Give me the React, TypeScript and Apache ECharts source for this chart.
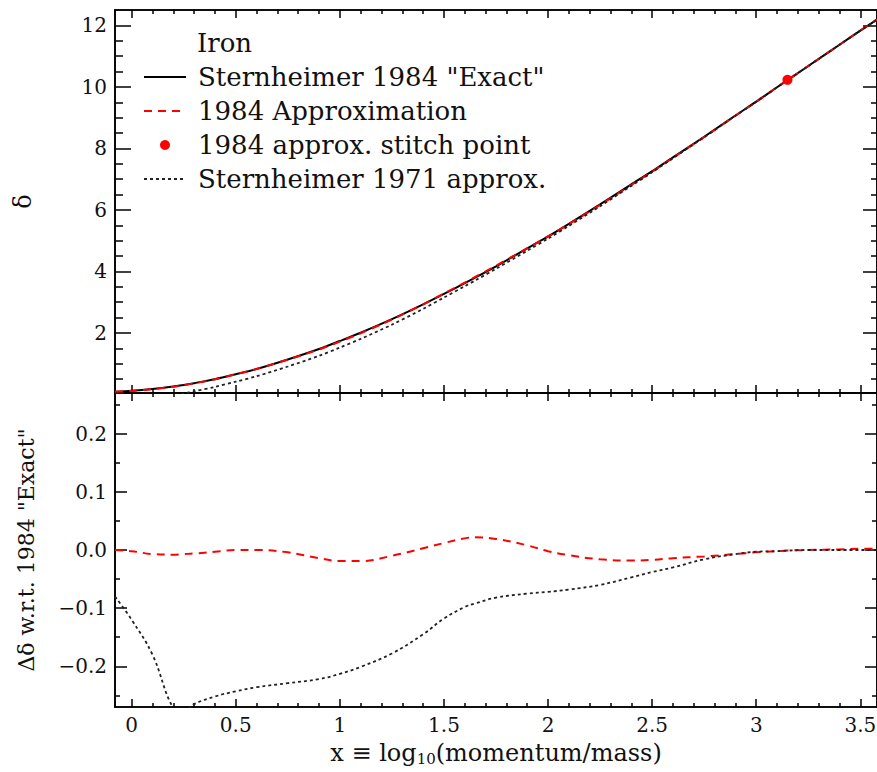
import React, { useEffect, useRef } from 'react';
import * as echarts from 'echarts';

// ---- data ----
const X_VALUES = [-0.08, 0, 0.1, 0.2, 0.25, 0.3, 0.4, 0.5, 0.6, 0.75, 0.9, 1.0, 1.1, 1.25, 1.4, 1.5, 1.6, 1.65, 1.75, 1.9, 2.0, 2.1, 2.25, 2.4, 2.5, 2.6, 2.75, 2.9, 3.0, 3.1, 3.15, 3.25, 3.4, 3.5, 3.58];

// delta, Sternheimer 1984 "Exact"
const DELTA_EXACT_1984 = [0.09, 0.12, 0.18, 0.26, 0.31, 0.37, 0.5, 0.66, 0.83, 1.14, 1.48, 1.74, 2.01, 2.45, 2.93, 3.27, 3.62, 3.8, 4.17, 4.75, 5.14, 5.55, 6.18, 6.83, 7.26, 7.71, 8.38, 9.07, 9.52, 9.99, 10.22, 10.68, 11.37, 11.83, 12.19];
// delta, 1984 approximation
const DELTA_APPROX_1984 = [0.09, 0.118, 0.173, 0.252, 0.303, 0.364, 0.497, 0.66, 0.83, 1.136, 1.466, 1.721, 1.991, 2.44, 2.933, 3.282, 3.64, 3.822, 4.189, 4.758, 5.138, 5.541, 6.164, 6.812, 7.243, 7.696, 8.369, 9.063, 9.516, 9.988, 10.219, 10.68, 11.371, 11.832, 12.192];
// delta, Sternheimer 1971 approximation
const DELTA_1971 = [0.01, 0.0, 0.0, -0.012, 0.032, 0.105, 0.248, 0.417, 0.594, 0.911, 1.258, 1.527, 1.809, 2.272, 2.785, 3.152, 3.522, 3.708, 4.088, 4.675, 5.068, 5.482, 6.12, 6.783, 7.222, 7.68, 8.364, 9.063, 9.517, 9.988, 10.219, 10.68, 11.37, 11.83, 12.19];
// stitch point of the 1984 approximation
const STITCH_X = 3.15;
const STITCH_DELTA = 10.23;

// differences w.r.t. 1984 "Exact"
const DIFF_APPROX_1984 = [0.0, -0.002, -0.007, -0.008, -0.007, -0.006, -0.003, 0.0, 0.0, -0.004, -0.014, -0.019, -0.019, -0.01, 0.003, 0.012, 0.02, 0.022, 0.019, 0.008, -0.002, -0.009, -0.016, -0.018, -0.017, -0.014, -0.011, -0.007, -0.004, -0.002, -0.001, 0.0, 0.001, 0.002, 0.002];
const DIFF_1971 = [-0.08, -0.12, -0.18, -0.272, -0.278, -0.265, -0.252, -0.243, -0.236, -0.229, -0.222, -0.213, -0.201, -0.178, -0.145, -0.118, -0.098, -0.092, -0.082, -0.075, -0.072, -0.068, -0.06, -0.047, -0.038, -0.03, -0.016, -0.007, -0.003, -0.002, -0.001, 0.0, 0.0, 0.0, 0.0];

// ---- axes / ticks ----
const X_MIN = -0.08;
const X_MAX = 3.58;
const X_MAJOR = [0, 0.5, 1, 1.5, 2, 2.5, 3, 3.5];
const X_MINOR = [0.1, 0.2, 0.3, 0.4, 0.6, 0.7, 0.8, 0.9, 1.1, 1.2, 1.3, 1.4, 1.6, 1.7, 1.8, 1.9, 2.1, 2.2, 2.3, 2.4, 2.6, 2.7, 2.8, 2.9, 3.1, 3.2, 3.3, 3.4];

const TOP_Y_MIN = 0.05;
const TOP_Y_MAX = 12.5;
const TOP_Y_MAJOR = [2, 4, 6, 8, 10, 12];
const TOP_Y_MINOR = [0.5, 1, 1.5, 2.5, 3, 3.5, 4.5, 5, 5.5, 6.5, 7, 7.5, 8.5, 9, 9.5, 10.5, 11, 11.5];

const BOT_Y_MIN = -0.27;
const BOT_Y_MAX = 0.27;
const BOT_Y_MAJOR = [-0.2, -0.1, 0, 0.1, 0.2];
const BOT_Y_MINOR = [-0.25, -0.15, -0.05, 0.05, 0.15, 0.25];

const LEGEND_NAMES = ['Sternheimer 1984 "Exact"', '1984 Approximation', '1984 approx. stitch point', 'Sternheimer 1971 approx.'];

const FONT = "'DejaVu Serif', 'Liberation Serif', serif";
const INK = '#111';

const lineStyle = { color: '#000', width: 1.6 };

function xAxis(gridIndex: number, position: string, ticks: number[], len: number, labels: boolean, extra: any = {}) {
  return {
    type: 'value', gridIndex, position, min: X_MIN, max: X_MAX,
    axisLine: { show: true, onZero: false, lineStyle },
    splitLine: { show: false },
    axisTick: { show: true, inside: true, length: len, customValues: ticks, lineStyle: { color: '#000', width: 1.5 } },
    axisLabel: labels
      ? { show: true, customValues: X_MAJOR, formatter: (v: number) => String(v), fontFamily: FONT, fontSize: 20, color: INK, margin: 8 }
      : { show: false },
    ...extra,
  };
}

function yAxis(gridIndex: number, position: string, min: number, max: number, ticks: number[], len: number, labels: number[] | null, fmt: (v: number) => string, extra: any = {}) {
  return {
    type: 'value', gridIndex, position, min, max,
    axisLine: { show: true, onZero: false, lineStyle },
    splitLine: { show: false },
    axisTick: { show: true, inside: true, length: len, customValues: ticks, lineStyle: { color: '#000', width: 1.5 } },
    axisLabel: labels
      ? { show: true, customValues: labels, formatter: fmt, fontFamily: FONT, fontSize: 20, color: INK, margin: 8 }
      : { show: false },
    ...extra,
  };
}

const pairs = (ys: number[]) => X_VALUES.map((x, i) => [x, ys[i]]);

export default function App() {
  const ref = useRef<HTMLDivElement>(null);
  useEffect(() => {
    const chart = echarts.init(ref.current!, null, { renderer: 'svg' });
    const intFmt = (v: number) => String(v);
    const decFmt = (v: number) => v.toFixed(1).replace('-', '\u2212');
    const hideSymbol = { opacity: 0 };

    const option: any = {
      animation: false,
      backgroundColor: '#fff',
      title: {
        text: 'Iron', left: 197, top: 30, padding: 0,
        textStyle: { fontFamily: FONT, fontSize: 26, fontWeight: 'normal', color: INK },
      },
      legend: {
        data: [
          { name: LEGEND_NAMES[0], itemStyle: hideSymbol },
          { name: LEGEND_NAMES[1], itemStyle: hideSymbol },
          { name: LEGEND_NAMES[2], itemStyle: { color: '#ff0000', opacity: 1 } },
          { name: LEGEND_NAMES[3], itemStyle: hideSymbol },
        ],
        orient: 'vertical', left: 143, top: 64, padding: 0,
        itemWidth: 42, itemHeight: 10, itemGap: 8,
        textStyle: { fontFamily: FONT, fontSize: 26, color: INK, lineHeight: 25, padding: [0, 0, 0, 7] },
        selectedMode: false,
      },
      grid: [
        { left: 115, right: 0, top: 10, height: 383, outerBoundsMode: 'none', containLabel: false },
        { left: 115, right: 0, top: 393, height: 314, outerBoundsMode: 'none', containLabel: false },
      ],
      xAxis: [
        xAxis(0, 'bottom', X_MAJOR, 8, false),
        xAxis(0, 'bottom', X_MINOR, 4, false),
        xAxis(0, 'top', X_MAJOR, 8, false),
        xAxis(0, 'top', X_MINOR, 4, false),
        xAxis(1, 'bottom', X_MAJOR, 8, true, {
          name: 'x \u2261 log{sub|10}(momentum/mass)',
          nameLocation: 'middle', nameGap: 33,
          nameTextStyle: {
            fontFamily: FONT, fontSize: 24, color: INK, lineHeight: 26,
            rich: { sub: { fontFamily: FONT, fontSize: 15, color: INK, lineHeight: 15, padding: [9, 0, 0, 0], verticalAlign: 'bottom' } },
          },
        }),
        xAxis(1, 'bottom', X_MINOR, 4, false),
        xAxis(1, 'top', X_MAJOR, 8, false),
        xAxis(1, 'top', X_MINOR, 4, false),
      ],
      yAxis: [
        yAxis(0, 'left', TOP_Y_MIN, TOP_Y_MAX, TOP_Y_MAJOR, 16, TOP_Y_MAJOR, intFmt, {
          name: '\u03b4', nameLocation: 'middle', nameRotate: 90, nameGap: 80,
          nameTextStyle: { fontFamily: FONT, fontSize: 24, color: INK },
        }),
        yAxis(0, 'left', TOP_Y_MIN, TOP_Y_MAX, TOP_Y_MINOR, 8, null, intFmt),
        yAxis(0, 'right', TOP_Y_MIN, TOP_Y_MAX, TOP_Y_MAJOR, 14, null, intFmt),
        yAxis(0, 'right', TOP_Y_MIN, TOP_Y_MAX, TOP_Y_MINOR, 6, null, intFmt),
        yAxis(1, 'left', BOT_Y_MIN, BOT_Y_MAX, BOT_Y_MAJOR, 12, BOT_Y_MAJOR, decFmt, {
          name: '\u0394\u03b4 w.r.t. 1984 "Exact"', nameLocation: 'middle', nameRotate: 90, nameGap: 78,
          nameTextStyle: { fontFamily: FONT, fontSize: 22, color: INK },
        }),
        yAxis(1, 'left', BOT_Y_MIN, BOT_Y_MAX, BOT_Y_MINOR, 5, null, decFmt),
        yAxis(1, 'right', BOT_Y_MIN, BOT_Y_MAX, BOT_Y_MAJOR, 12, null, decFmt),
        yAxis(1, 'right', BOT_Y_MIN, BOT_Y_MAX, BOT_Y_MINOR, 5, null, decFmt),
      ],
      series: [
        {
          name: LEGEND_NAMES[0], type: 'line', xAxisIndex: 0, yAxisIndex: 0,
          data: pairs(DELTA_EXACT_1984), symbol: 'none', smooth: 0.3,
          lineStyle: { color: '#000', width: 2, type: 'solid' }, itemStyle: { color: '#000' }, z: 2,
        },
        {
          name: LEGEND_NAMES[1], type: 'line', xAxisIndex: 0, yAxisIndex: 0,
          data: pairs(DELTA_APPROX_1984), symbol: 'none', smooth: 0.3,
          lineStyle: { color: '#ff0000', width: 2, type: [8, 6] }, itemStyle: { color: '#ff0000' }, z: 3,
        },
        {
          name: LEGEND_NAMES[2], type: 'scatter', xAxisIndex: 0, yAxisIndex: 0,
          data: [[STITCH_X, STITCH_DELTA]], symbol: 'circle', symbolSize: 10,
          itemStyle: { color: '#ff0000', opacity: 1 }, z: 5,
        },
        {
          name: LEGEND_NAMES[3], type: 'line', xAxisIndex: 0, yAxisIndex: 0,
          data: pairs(DELTA_1971), symbol: 'none', smooth: 0.3,
          lineStyle: { color: '#222', width: 1.8, type: [3, 3] }, itemStyle: { color: '#222' }, z: 4,
        },
        {
          name: 'diff 1984 approximation', type: 'line', xAxisIndex: 4, yAxisIndex: 4,
          data: pairs(DIFF_APPROX_1984), symbol: 'none', smooth: 0.4,
          lineStyle: { color: '#ff0000', width: 2, type: [8, 6] }, z: 3,
        },
        {
          name: 'diff 1971 approx.', type: 'line', xAxisIndex: 4, yAxisIndex: 4,
          data: pairs(DIFF_1971), symbol: 'none', smooth: 0.4,
          lineStyle: { color: '#222', width: 1.8, type: [3, 3] }, z: 4,
        },
      ],
    };
    chart.setOption(option);
    return () => chart.dispose();
  }, []);
  return <div ref={ref} style={{ position: 'fixed', left: 0, top: 0, width: 877, height: 772, background: '#fff' }} />;
}
